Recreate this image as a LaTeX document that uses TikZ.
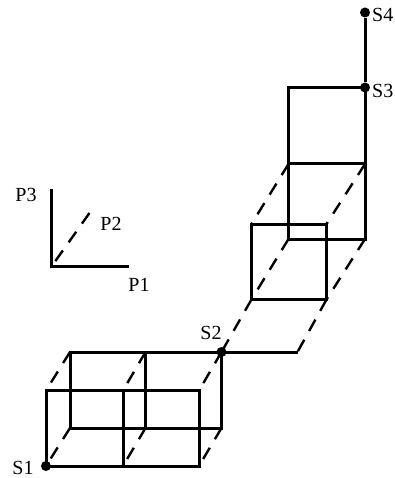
\documentclass[tikz,border=0pt]{standalone}
\usepackage{fontspec}
\setmainfont{Liberation Serif}
\begin{document}
\begin{tikzpicture}[
  x=1pt,y=-1pt,
  font=\fontsize{20}{22}\selectfont,
  edge/.style={line width=3pt,line cap=butt,line join=miter},
  hidden/.style={line width=2.4pt,dash pattern=on 13pt off 10pt},
  vertex/.style={circle,fill=black,inner sep=0pt,minimum size=10pt},
  lab/.style={inner sep=0pt,anchor=west},
]
\useasboundingbox (0,0) rectangle (394,478);
% axes
\coordinate (o) at (51.5,266.5);
\coordinate (p1) at (128.5,266.5);
\coordinate (p2) at (89.5,213);
\coordinate (p3) at (51.5,189);
\draw[edge] (p3) -- (o) -- (p1);
\draw[hidden] (p2) -- (o);
\node[inner sep=0pt] (lp1) at (139,285) {P1};
\node[inner sep=0pt] (lp2) at (111,224) {P2};
\node[inner sep=0pt] (lp3) at (26,195) {P3};

% lower block
\coordinate (fa) at (46,466);
\coordinate (fb) at (123,466);
\coordinate (fc) at (199,466);
\coordinate (fd) at (46,390.5);
\coordinate (fe) at (123,390.5);
\coordinate (ff) at (199,390.5);
\coordinate (ba) at (70,428);
\coordinate (bb) at (145.5,428);
\coordinate (bc) at (221.5,428);
\coordinate (bd) at (70,352);
\coordinate (be) at (145.5,352);
\coordinate (bf) at (221.5,352);
\draw[edge] (fa) -- (fc) -- (ff) -- (fd) -- cycle;
\draw[edge] (fb) -- (fe);
\draw[edge] (ba) -- (bc) -- (bf) -- (bd) -- cycle;
\draw[edge] (bb) -- (be);
\foreach \b/\f in {ba/fa,bb/fb,bc/fc,bd/fd,be/fe,bf/ff}
  \draw[hidden] (\b) -- (\f);

% middle block
\coordinate (tail) at (297.5,352);
\coordinate (ma) at (251.5,299.5);
\coordinate (mb) at (326.5,299.5);
\coordinate (mc) at (326.5,224);
\coordinate (md) at (251.5,224);
\coordinate (na) at (288.5,239);
\coordinate (nb) at (365,239);
\coordinate (nc) at (365,164);
\coordinate (nd) at (288.5,164);
\draw[edge] (bf) -- (tail);
\draw[edge] (ma) -- (mb) -- (mc) -- (md) -- cycle;
\draw[edge] (na) -- (nb) -- (nc) -- (nd) -- cycle;
\foreach \b/\f in {ma/bf,mb/tail,na/ma,nb/mb,nd/md,nc/mc}
  \draw[hidden] (\b) -- (\f);

% top
\coordinate (ue) at (288.5,87.5);
\coordinate (uf) at (365,87.5);
\draw[edge] (nd) -- (ue) -- (uf) -- (nc);
\node[vertex] (s1) at (fa) {};
\node[vertex] (s2) at (bf) {};
\node[vertex] (s3) at (uf) {};
\node[vertex] (s4) at (365,12.5) {};
\draw[edge] (s4) -- (s3);
\node[inner sep=0pt] (ls1) at (23,468) {S1};
\node[inner sep=0pt] (ls2) at (211,333) {S2};
\node[lab] (ls3) at (372,91) {S3};
\node[lab] (ls4) at (372,15) {S4};
\end{tikzpicture}
\end{document}
